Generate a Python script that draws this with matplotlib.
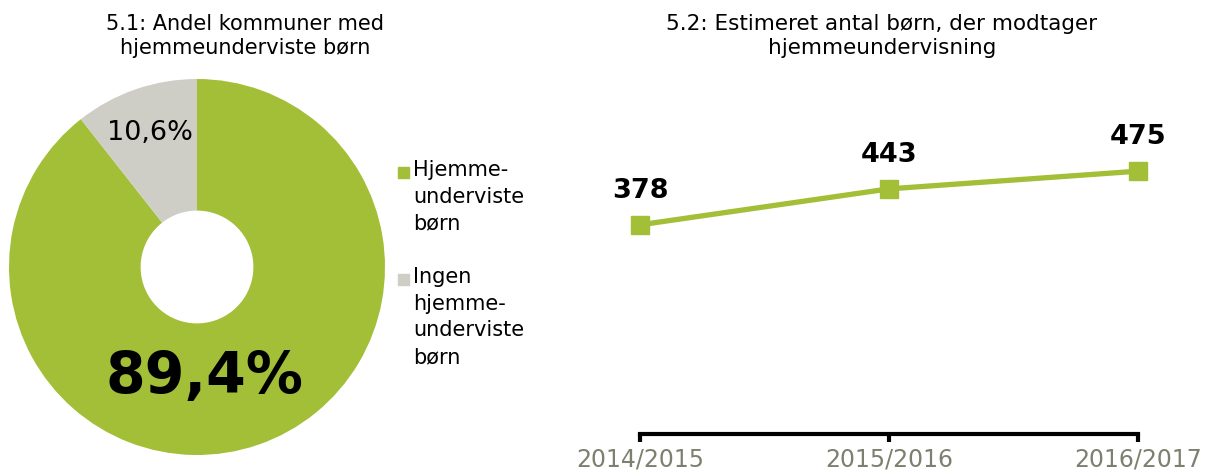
import matplotlib
matplotlib.use("Agg")
import matplotlib.pyplot as plt
from matplotlib.patches import Rectangle

plt.rcParams["font.family"] = ["DejaVu Sans"]

# data
pie_labels = ["Hjemme-\nunderviste\nbørn", "Ingen\nhjemme-\nunderviste\nbørn"]
pie_values = [89.4, 10.6]
pie_colors = ["#A2BF37", "#CFCEC6"]

years = ["2014/2015", "2015/2016", "2016/2017"]
children = [378, 443, 475]

W, H = 1208, 477
fig = plt.figure(figsize=(W / 100, H / 100), dpi=100)


def box(x0, y0, x1, y1):
    # pixel box (top-left origin) -> figure fraction
    return [x0 / W, 1 - y1 / H, (x1 - x0) / W, (y1 - y0) / H]


# ---- 5.1 donut
ax1 = fig.add_axes(box(9, 80, 385, 456))
wedges, _ = ax1.pie(pie_values, colors=pie_colors, startangle=90, counterclock=False,
                    radius=1, wedgeprops=dict(width=0.70, linewidth=0))
ax1.set_xlim(-1, 1)
ax1.set_ylim(-1, 1)
ax1.set_aspect("equal")
ax1.axis("off")
ax1.text(0.04, -0.58, "89,4%", ha="center", va="center", fontsize=41, fontweight="bold")
ax1.text(-0.25, 0.72, "10,6%", ha="center", va="center", fontsize=19.5)
fig.text(245 / W, 1 - 36 / H, "5.1: Andel kommuner med\nhjemmeunderviste børn", ha="center",
         va="center", fontsize=15, linespacing=1.25)

# legend drawn by hand so the square sits beside the first line
leg_y = [173, 280]
for lab, col, y in zip(pie_labels, pie_colors, leg_y):
    fig.patches.append(Rectangle((398 / W, 1 - (y + 6) / H), 11 / W, 11 / H,
                                 transform=fig.transFigure, color=col))
    fig.text(413 / W, 1 - (y - 13) / H, lab, ha="left", va="top", fontsize=15, linespacing=1.42)

# ---- 5.2 line
ax2 = fig.add_axes(box(640, 103, 1138, 435))
x = list(range(len(years)))
ax2.plot(x, children, color="#A2BF37", lw=3.8, marker="s", markersize=13, clip_on=False)
for xi, v in zip(x, children):
    ax2.annotate(str(v), (xi, v), xytext=(0, 25), textcoords="offset points", ha="center",
                 va="center", fontsize=19.5, fontweight="bold")
ax2.set_xlim(0, len(years) - 1)
ax2.set_ylim(0, 600)
ax2.set_xticks(x)
ax2.set_xticklabels(years, color="#7F7F6F", fontsize=17)
ax2.set_yticks([])
for s in ["top", "right", "left"]:
    ax2.spines[s].set_visible(False)
ax2.spines["bottom"].set_linewidth(3)
ax2.tick_params(axis="x", length=6, width=3, direction="out", pad=3)
fig.text(882 / W, 1 - 36 / H, "5.2: Estimeret antal børn, der modtager\nhjemmeundervisning",
         ha="center", va="center", fontsize=15.5, linespacing=1.25)

fig.savefig("out.png", dpi=100)
